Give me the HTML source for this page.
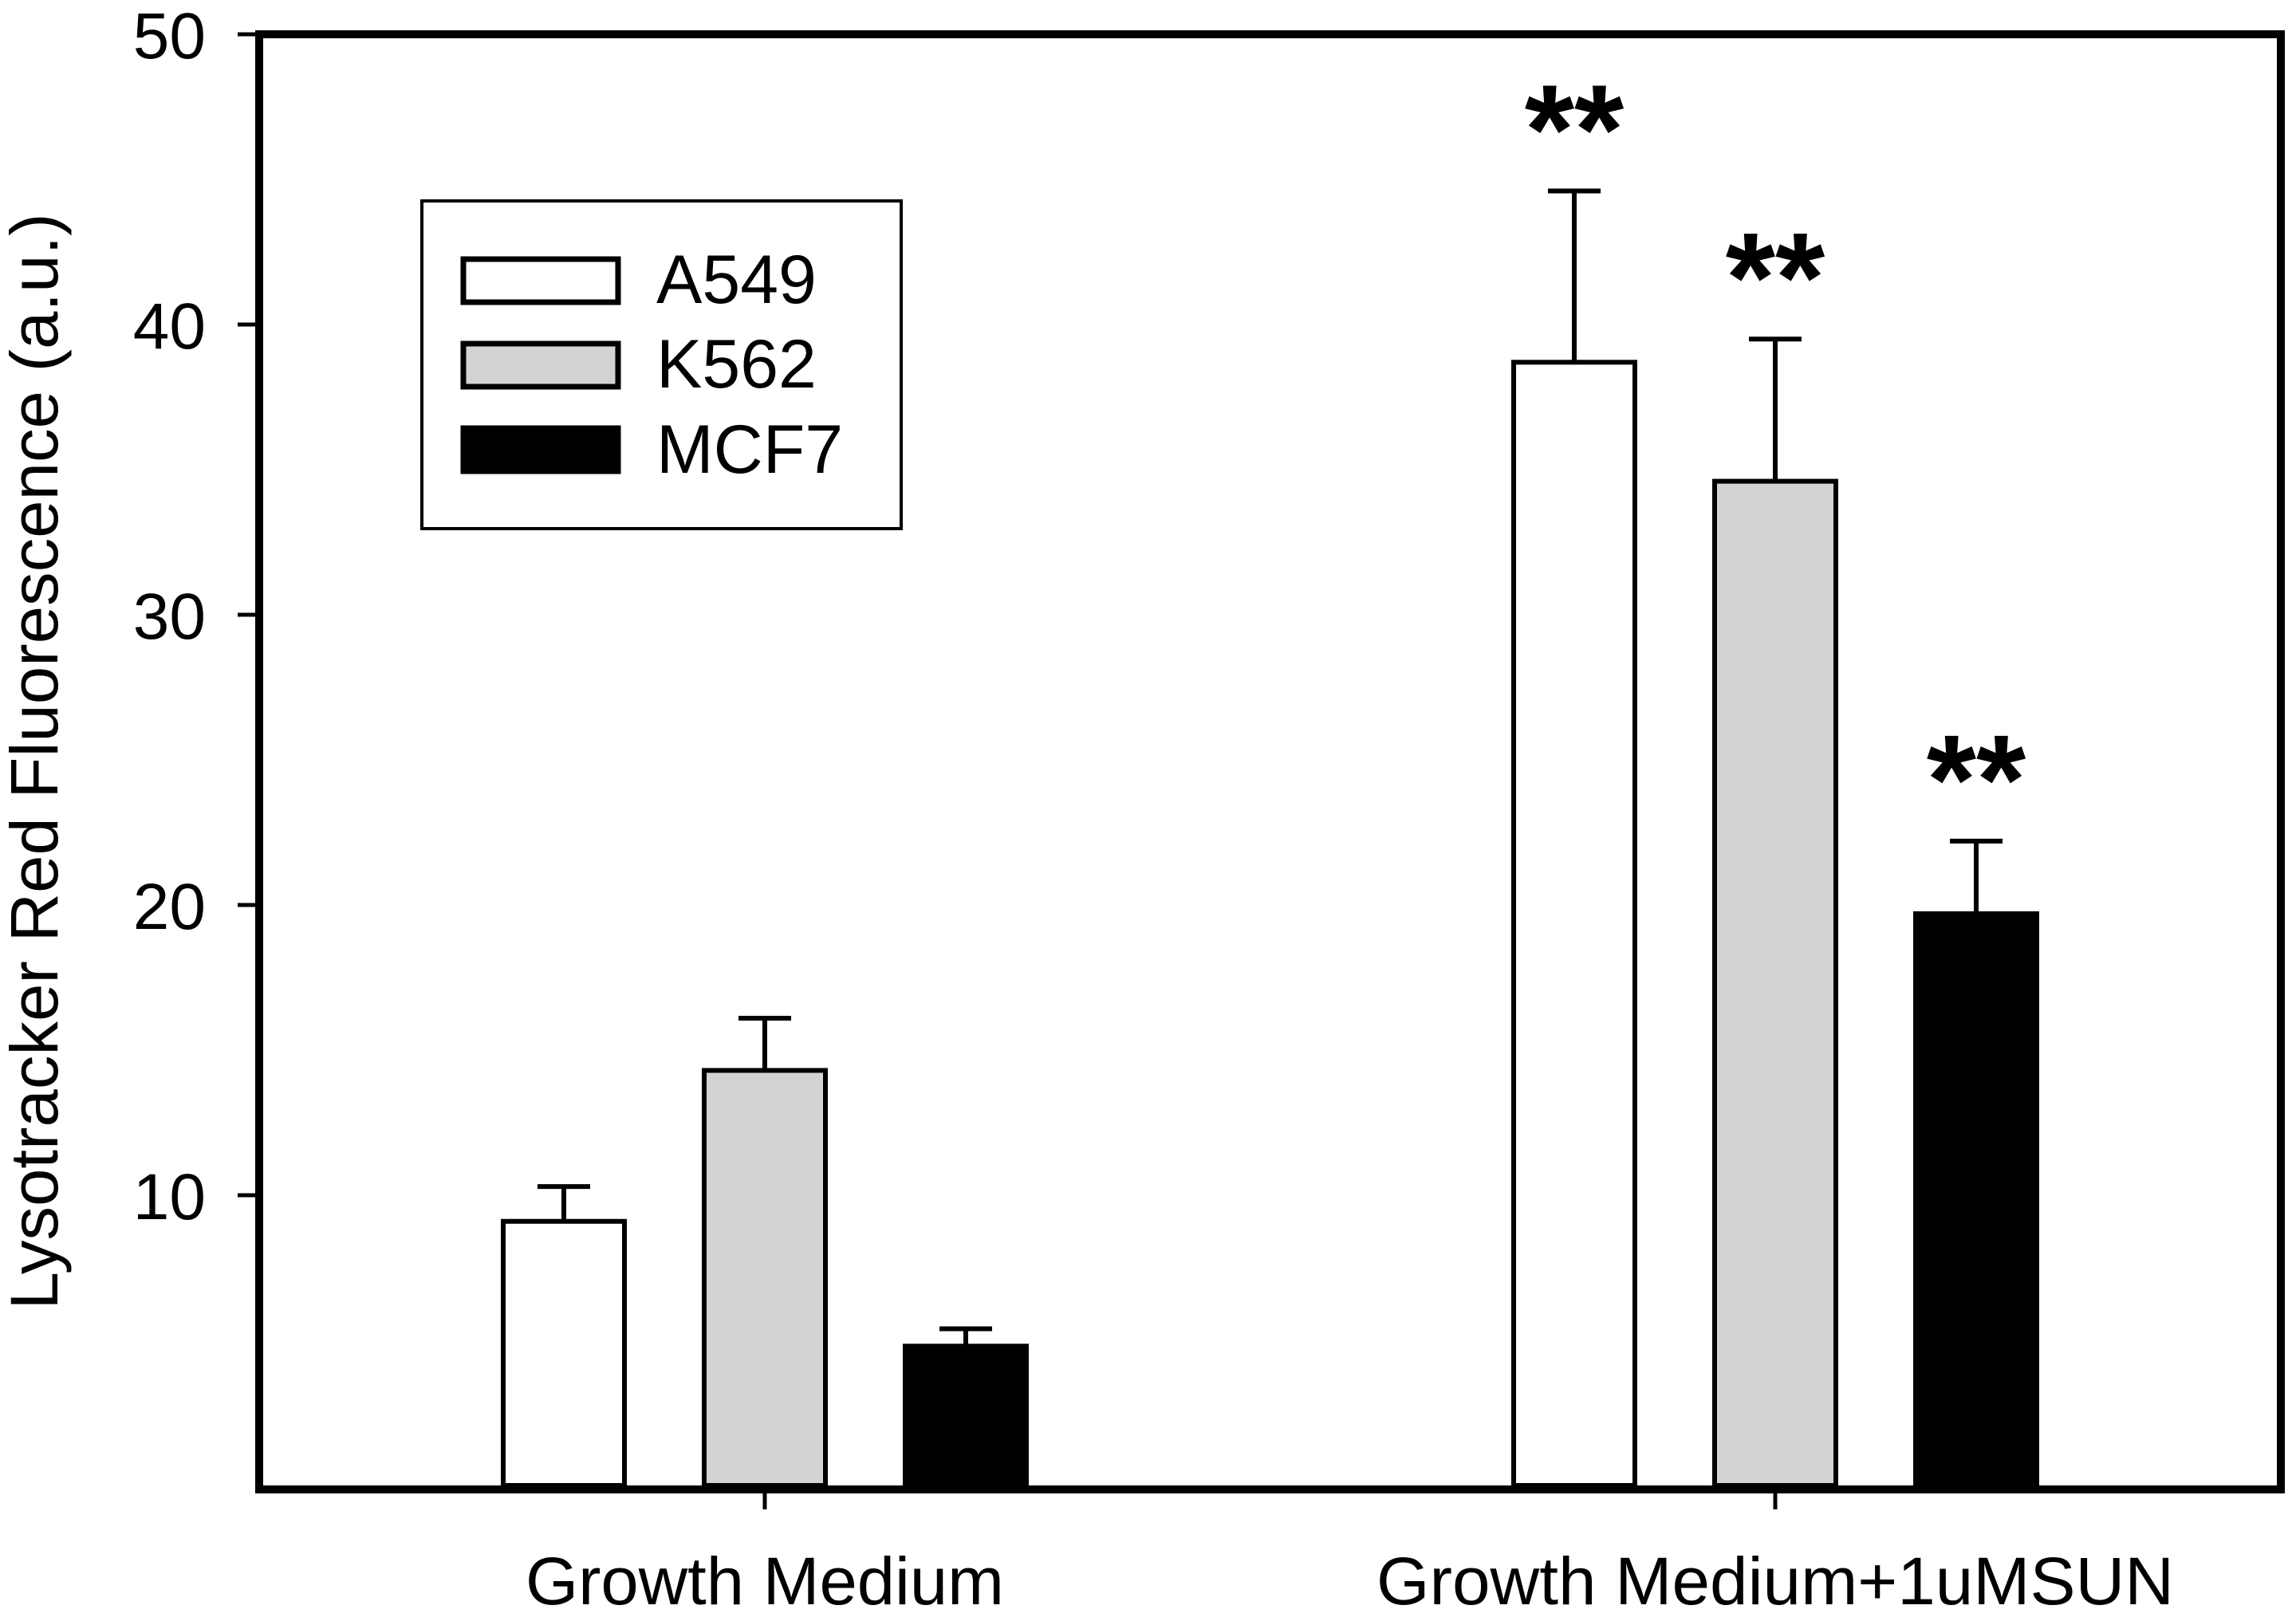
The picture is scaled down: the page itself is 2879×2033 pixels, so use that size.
<!DOCTYPE html>
<html><head><meta charset="utf-8"><style>
html,body{margin:0;padding:0;background:#fff;}
svg{display:block;font-family:"Liberation Sans",Arial,sans-serif;}
</style></head><body>
<svg id="chart" width="2879" height="2033" viewBox="0 0 2879 2033">
<g id="marks"></g>
<rect x="325" y="43" width="2535" height="1825" fill="none" stroke="#000" stroke-width="10"/>
<g id="axes"></g>
<text transform="translate(72,955) rotate(-90)" text-anchor="middle" font-size="84" textLength="1375" lengthAdjust="spacingAndGlyphs">Lysotracker Red Fluorescence (a.u.)</text>
<g>
<rect x="529" y="252" width="601" height="411" fill="#fff" stroke="#000" stroke-width="4"/>
<rect x="581" y="325" width="194" height="54" fill="#fff" stroke="#000" stroke-width="7"/>
<rect x="581" y="431" width="194" height="54" fill="#d3d3d3" stroke="#000" stroke-width="7"/>
<rect x="581" y="537" width="194" height="54" fill="#000" stroke="#000" stroke-width="7"/>
<text x="823" y="380" font-size="86">A549</text>
<text x="823" y="486" font-size="86">K562</text>
<text x="823" y="593" font-size="86">MCF7</text>
</g>
</svg>
<script>
const categories = ["Growth Medium", "Growth Medium+1uMSUN"];
const seriesNames = ["A549", "K562", "MCF7"];
const seriesFill = ["#ffffff", "#d3d3d3", "#000000"];
const meanA549 = [9.1, 38.7];
const meanK562 = [14.3, 34.6];
const meanMCF7 = [4.8, 19.7];
const errA549 = [1.2, 5.9];
const errK562 = [1.8, 4.9];
const errMCF7 = [0.6, 2.5];
const sigA549 = ["", "**"];
const sigK562 = ["", "**"];
const sigMCF7 = ["", "**"];
const yTicks = [10, 20, 30, 40, 50];

const NS = "http://www.w3.org/2000/svg";
const yScale = v => 1863 - v * 36.4;
const groupCenter = i => 959 + i * 1267;
const barOffset = s => (s - 1) * 252;
const barW = 152;
function mk(tag, attrs, parent) {
  const e = document.createElementNS(NS, tag);
  for (const k in attrs) e.setAttribute(k, attrs[k]);
  parent.appendChild(e);
  return e;
}
const marks = document.getElementById("marks");
const axes = document.getElementById("axes");
const means = [meanA549, meanK562, meanMCF7];
const errs = [errA549, errK562, errMCF7];
const sigs = [sigA549, sigK562, sigMCF7];
const labelLen = [600, 1000];
categories.forEach((cat, i) => {
  seriesNames.forEach((name, s) => {
    const cx = groupCenter(i) + barOffset(s);
    const top = yScale(means[s][i]);
    const etop = yScale(means[s][i] + errs[s][i]);
    const ln = mk("line", {x1: cx, x2: cx, y1: top, y2: etop, stroke: "#000", "stroke-width": 6}, marks);
    
    
    const cap = mk("line", {x1: cx - 33, x2: cx + 33, y1: etop, y2: etop, stroke: "#000", "stroke-width": 6}, marks);
    
    
    const r = mk("rect", {x: cx - barW / 2, y: top, width: barW, height: yScale(0) - top, fill: seriesFill[s], stroke: "#000", "stroke-width": 6}, marks);
    
    
    if (sigs[s][i]) {
      const t = mk("text", {x: cx, y: etop - 22, "text-anchor": "middle", "font-size": 160, "font-weight": "bold"}, marks);
      t.textContent = sigs[s][i];
      
      
    }
  });
  const tk = mk("line", {x1: groupCenter(i), x2: groupCenter(i), y1: 1868, y2: 1893, stroke: "#000", "stroke-width": 5}, axes);
  
  
  const lb = mk("text", {x: groupCenter(i), y: 2012, "text-anchor": "middle", "font-size": 84, textLength: labelLen[i], lengthAdjust: "spacingAndGlyphs"}, axes);
  lb.textContent = cat;
  
  
});
yTicks.forEach(v => {
  const y = yScale(v);
  const tk = mk("line", {x1: 298, x2: 325, y1: y, y2: y, stroke: "#000", "stroke-width": 5}, axes);
  
  
  const lb = mk("text", {x: 258, y: y + 30, "text-anchor": "end", "font-size": 82}, axes);
  lb.textContent = v;
  
  
});
</script>
</body></html>
